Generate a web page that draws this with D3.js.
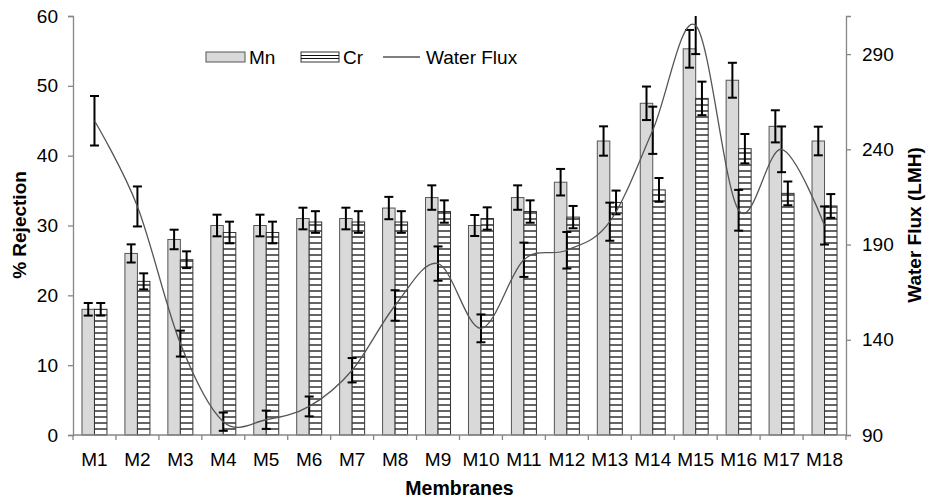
<!DOCTYPE html>
<html><head><meta charset="utf-8">
<script src="https://cdn.jsdelivr.net/npm/d3@7"></script>
<style>
body{margin:0;background:#fff;}
text{font-family:"Liberation Sans",Arial,sans-serif;}
</style></head>
<body><svg id="c" width="926" height="501"></svg>
<script>
const categories = ["M1","M2","M3","M4","M5","M6","M7","M8","M9","M10","M11","M12","M13","M14","M15","M16","M17","M18"];
const mnValues = [18,26,28,30,30,31,31,32.5,34,30,34,36.2,42.1,47.5,55.3,50.8,44.2,42.1];
const mnErrors = [0.9,1.3,1.4,1.55,1.55,1.55,1.55,1.6,1.75,1.5,1.75,1.9,2.1,2.4,2.7,2.5,2.3,2.05];
const crValues = [18,22,25.1,29,29,30.5,30.5,30.5,32,31,32,31.2,33.3,35.1,48.2,41,34.6,32.8];
const crErrors = [0.9,1.15,1.2,1.55,1.55,1.55,1.55,1.55,1.6,1.6,1.6,1.6,1.7,1.7,2.4,2.1,1.7,1.7];
const fluxValues = [255,210,138,97,98,105,124,158,180,146,182,187,202,250,305,208,240,200];
const fluxErrors = [13,10.5,6.8,4.8,4.8,5.2,6.4,8,9,7.3,9,9.6,10,12.4,15,10.7,12,10];
const leftTicks = [0,10,20,30,40,50,60];
const rightTicks = [90,140,190,240,290];
const seriesNames = ["Mn","Cr","Water Flux"];

const svg = d3.select("#c");
const L = 73, R = 846, T = 16, B = 435;

const defs = svg.append("defs");
const pat = defs.append("pattern").attr("id","stripes").attr("patternUnits","userSpaceOnUse")
  .attr("width",10).attr("height",6);
pat.append("rect").attr("width",10).attr("height",6).attr("fill","#fff");
pat.append("line").attr("x1",0).attr("x2",10).attr("y1",3).attr("y2",3).attr("stroke","#111").attr("stroke-width",1.3);
defs.append("clipPath").attr("id","plot").append("rect").attr("x",L-10).attr("y",T).attr("width",R-L+20).attr("height",B-T);

const x = d3.scaleBand().domain(categories).range([L,R]).paddingInner(0).paddingOuter(0);
const x1 = d3.scaleBand().domain(["Mn","Cr"]).range([0,x.bandwidth()]).paddingInner(0).paddingOuter(0.718);
const yL = d3.scaleLinear().domain([0,60]).range([B,T]);
const yR = d3.scaleLinear().domain([90,310]).range([B,T]);

// bars
const g = svg.append("g");
categories.forEach((c,i)=>{
  g.append("rect").attr("x",x(c)+x1("Mn")).attr("width",x1.bandwidth())
    .attr("y",yL(mnValues[i])).attr("height",yL(0)-yL(mnValues[i]))
    .attr("fill","#d9d9d9").attr("stroke","#555").attr("stroke-width",1);
  g.append("rect").attr("x",x(c)+x1("Cr")).attr("width",x1.bandwidth())
    .attr("y",yL(crValues[i])).attr("height",yL(0)-yL(crValues[i]))
    .attr("fill","url(#stripes)").attr("stroke","#333").attr("stroke-width",1);
});

function errBar(sel, cx, y0, y1){
  const cap = 4.5;
  sel.append("line").attr("x1",cx).attr("x2",cx).attr("y1",y0).attr("y2",y1);
  sel.append("line").attr("x1",cx-cap).attr("x2",cx+cap).attr("y1",y0).attr("y2",y0);
  sel.append("line").attr("x1",cx-cap).attr("x2",cx+cap).attr("y1",y1).attr("y2",y1);
}
const eg = svg.append("g").attr("stroke","#000").attr("stroke-width",2).attr("clip-path","url(#plot)");
categories.forEach((c,i)=>{
  const cm = x(c)+x1("Mn")+x1.bandwidth()/2;
  const cc = x(c)+x1("Cr")+x1.bandwidth()/2;
  errBar(eg, cm, yL(mnValues[i]+mnErrors[i]), yL(mnValues[i]-mnErrors[i]));
  errBar(eg, cc, yL(crValues[i]+crErrors[i]), yL(crValues[i]-crErrors[i]));
});

// flux line
const line = d3.line().x((d,i)=>x(categories[i])+x.bandwidth()/2).y(d=>yR(d)).curve(d3.curveCardinal.tension(0));
svg.append("path").datum(fluxValues).attr("d",line).attr("fill","none").attr("stroke","#555").attr("stroke-width",1.3);
categories.forEach((c,i)=>{
  const cx = x(c)+x.bandwidth()/2;
  errBar(eg, cx, yR(fluxValues[i]+fluxErrors[i]), yR(fluxValues[i]-fluxErrors[i]));
});

// axes
const axL = svg.append("g").attr("transform",`translate(${L},0)`)
  .call(d3.axisLeft(yL).tickValues(leftTicks).tickSize(5).tickPadding(10));
const axR = svg.append("g").attr("transform",`translate(${R},0)`)
  .call(d3.axisRight(yR).tickValues(rightTicks).tickSize(5).tickPadding(11));
const axB = svg.append("g").attr("transform",`translate(0,${B})`)
  .call(d3.axisBottom(x).tickSize(0).tickPadding(18));
// boundary ticks
const bt = svg.append("g").attr("stroke","#868686").attr("stroke-width",1.3);
categories.concat(["_end"]).forEach((c,i)=>{
  const xx = i<categories.length ? x(c) : R;
  bt.append("line").attr("x1",xx).attr("x2",xx).attr("y1",B).attr("y2",B+5);
});
[axL,axR,axB].forEach(a=>{
  a.selectAll("path").attr("stroke","#868686").attr("stroke-width",1.3);
  a.selectAll(".tick line").attr("stroke","#868686").attr("stroke-width",1.3);
  a.selectAll("text").attr("font-size",19).attr("fill","#000").attr("font-family","Liberation Sans, Arial, sans-serif");
});
axB.select(".domain").attr("d",`M${L},0H${R}`);

// titles
svg.append("text").attr("transform","translate(26,225) rotate(-90)").attr("text-anchor","middle")
  .attr("font-size",19).attr("font-weight","bold").text("% Rejection");
svg.append("text").attr("transform","translate(921,225) rotate(-90)").attr("text-anchor","middle")
  .attr("font-size",19).attr("font-weight","bold").text("Water Flux (LMH)");
svg.append("text").attr("x",(L+R)/2).attr("y",495).attr("text-anchor","middle")
  .attr("font-size",19.5).attr("font-weight","bold").text("Membranes");

// legend
const lg = svg.append("g");
lg.append("rect").attr("x",206).attr("y",52).attr("width",39).attr("height",10).attr("fill","#d9d9d9").attr("stroke","#555");
lg.append("text").attr("x",249).attr("y",63.5).attr("font-size",19).text(seriesNames[0]);
lg.append("rect").attr("x",301).attr("y",52).attr("width",38).attr("height",10).attr("fill","#fff").attr("stroke","#333");
lg.append("line").attr("x1",301).attr("x2",339).attr("y1",55.5).attr("y2",55.5).attr("stroke","#111");
lg.append("line").attr("x1",301).attr("x2",339).attr("y1",58.5).attr("y2",58.5).attr("stroke","#111");
lg.append("text").attr("x",343).attr("y",63.5).attr("font-size",19).text(seriesNames[1]);
lg.append("line").attr("x1",383).attr("x2",420).attr("y1",57).attr("y2",57).attr("stroke","#555").attr("stroke-width",1.3);
lg.append("text").attr("x",426).attr("y",63.5).attr("font-size",19).text(seriesNames[2]);
</script></body></html>
